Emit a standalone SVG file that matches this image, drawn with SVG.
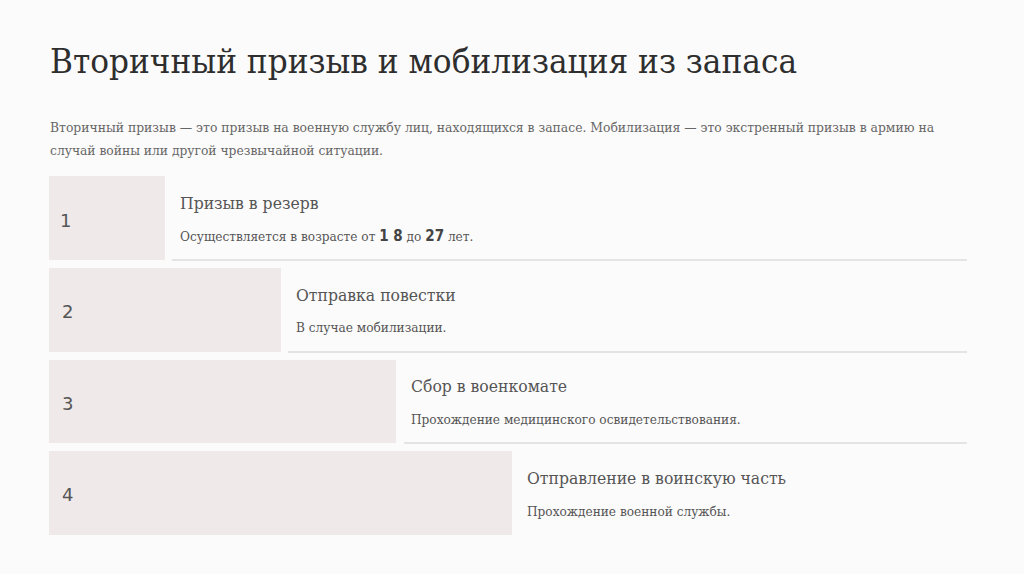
<svg xmlns="http://www.w3.org/2000/svg" width="1024" height="574" viewBox="0 0 1024 574">
<style>
.bg{fill:#fcfbfb}
.box{fill:#efe9e9}
.sep{stroke:#dcdcdc;stroke-width:1.5;fill:none}
.title{font-family:"DejaVu Serif","Liberation Serif",serif;font-stretch:condensed;font-size:34px;fill:#2e2e2e}
.intro{font-family:"DejaVu Serif","Liberation Serif",serif;font-stretch:condensed;font-size:13.7px;fill:#666}
.head{font-family:"DejaVu Serif","Liberation Serif",serif;font-stretch:condensed;font-size:17.4px;fill:#555}
.sub{font-family:"DejaVu Serif","Liberation Serif",serif;font-stretch:condensed;font-size:13.5px;fill:#555}
.num{font-family:"DejaVu Sans","Liberation Sans",sans-serif;font-size:18px;fill:#555}
.b{font-family:"DejaVu Sans","Liberation Sans",sans-serif;font-weight:bold;font-size:15px;fill:#444}
</style>
<rect class="bg" x="0" y="0" width="1024" height="574"/>
<text class="title" x="50" y="73" textLength="747" lengthAdjust="spacingAndGlyphs">Вторичный призыв и мобилизация из запаса</text>
<text class="intro" x="50" y="132" textLength="884" lengthAdjust="spacingAndGlyphs">Вторичный призыв — это призыв на военную службу лиц, находящихся в запасе. Мобилизация — это экстренный призыв в армию на</text>
<text class="intro" x="50" y="155" textLength="333" lengthAdjust="spacingAndGlyphs">случай войны или другой чрезвычайной ситуации.</text>
<g id="connectors">
<line class="sep" x1="172" y1="260" x2="967" y2="260"/>
<line class="sep" x1="288" y1="352" x2="967" y2="352"/>
<line class="sep" x1="404" y1="443" x2="967" y2="443"/>
</g>
<g id="step1">
<rect class="box" x="49" y="176" width="116" height="84"/>
<text class="num" x="60" y="227">1</text>
<text class="head" x="180" y="209">Призыв в резерв</text>
<text class="sub" x="180" y="241">Осуществляется в возрасте от <tspan class="b">1 8</tspan> до <tspan class="b">27</tspan> лет.</text>
</g>
<g id="step2">
<rect class="box" x="49" y="268" width="232" height="84"/>
<text class="num" x="62" y="318">2</text>
<text class="head" x="296" y="301">Отправка повестки</text>
<text class="sub" x="296" y="332">В случае мобилизации.</text>
</g>
<g id="step3">
<rect class="box" x="49" y="360" width="347" height="83"/>
<text class="num" x="62" y="410">3</text>
<text class="head" x="411" y="392">Сбор в военкомате</text>
<text class="sub" x="411" y="424">Прохождение медицинского освидетельствования.</text>
</g>
<g id="step4">
<rect class="box" x="49" y="451" width="463" height="84"/>
<text class="num" x="62" y="501">4</text>
<text class="head" x="527" y="484">Отправление в воинскую часть</text>
<text class="sub" x="527" y="516">Прохождение военной службы.</text>
</g>
</svg>
